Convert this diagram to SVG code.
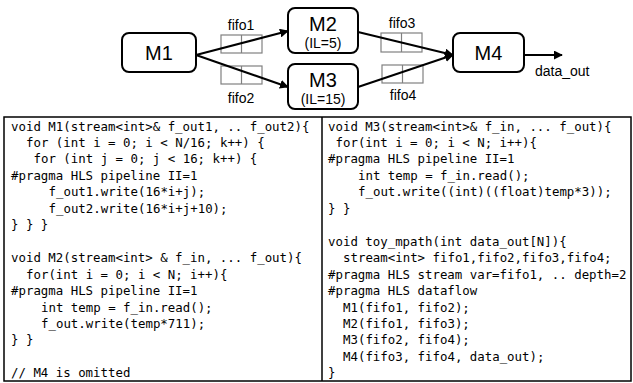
<svg xmlns="http://www.w3.org/2000/svg" width="633" height="383" viewBox="0 0 633 383">
<style>
.node{fill:#fff;stroke:#000;stroke-width:2}
.big{font-family:"Liberation Sans",Arial,sans-serif;font-size:20px;text-anchor:middle;fill:#000}
.il{font-family:"Liberation Sans",Arial,sans-serif;font-size:14px;text-anchor:middle;fill:#000}
.lbl{font-family:"Liberation Sans",Arial,sans-serif;font-size:14px;text-anchor:middle;fill:#000}
.fifo{fill:#fff;stroke:#808080;stroke-width:1.2}
.edge{stroke:#000;stroke-width:2;fill:none;marker-end:url(#ah)}
.code{font-family:"DejaVu Sans Mono","Liberation Mono",monospace;font-size:12.4px;fill:#000}
</style>
<defs>
<marker id="ah" viewBox="0 0 10 10" refX="9" refY="5" markerWidth="4.5" markerHeight="4.5" orient="auto" markerUnits="strokeWidth">
<path d="M0,0 L10,5 L0,10 z" fill="#000"/>
</marker>
</defs>
<rect width="633" height="383" fill="#fff"/>
<g id="fifos">
<g id="fifo1"><rect class="fifo" x="221" y="35" width="41" height="18"/><line x1="241.5" y1="35" x2="241.5" y2="53" stroke="#808080" stroke-width="1.2"/><text class="lbl" x="241" y="30">fifo1</text></g>
<g id="fifo2"><rect class="fifo" x="221" y="66" width="41" height="18"/><line x1="241.5" y1="66" x2="241.5" y2="84" stroke="#808080" stroke-width="1.2"/><text class="lbl" x="241" y="103">fifo2</text></g>
<g id="fifo3"><rect class="fifo" x="381" y="33" width="41" height="19"/><line x1="401.5" y1="33" x2="401.5" y2="52" stroke="#808080" stroke-width="1.2"/><text class="lbl" x="402" y="28">fifo3</text></g>
<g id="fifo4"><rect class="fifo" x="382" y="65" width="41" height="18"/><line x1="402.5" y1="65" x2="402.5" y2="83" stroke="#808080" stroke-width="1.2"/><text class="lbl" x="403" y="100">fifo4</text></g>
</g>
<g id="connectors">
<line class="edge" x1="196" y1="55" x2="288" y2="31"/>
<line class="edge" x1="196" y1="55" x2="288" y2="87"/>
<line class="edge" x1="358" y1="32" x2="453" y2="55"/>
<line class="edge" x1="358" y1="87" x2="453" y2="55"/>
<line class="edge" x1="524" y1="55" x2="562" y2="55"/>
</g>
<g id="M1"><rect class="node" x="122" y="33" width="74" height="39" rx="7"/><text class="big" x="159" y="59.5">M1</text></g>
<g id="M2"><rect class="node" x="288" y="8" width="70" height="45" rx="7"/><text class="big" x="323" y="31">M2</text><text class="il" x="323" y="48">(IL=5)</text></g>
<g id="M3"><rect class="node" x="288" y="64" width="70" height="45" rx="7"/><text class="big" x="323" y="87">M3</text><text class="il" x="323" y="104">(IL=15)</text></g>
<g id="M4"><rect class="node" x="453" y="33" width="71" height="39" rx="7"/><text class="big" x="488.5" y="59.5">M4</text></g>
<text class="lbl" x="535" y="76" style="text-anchor:start">data_out</text>
<g id="code">
<rect x="4" y="117" width="627" height="264" fill="none" stroke="#000" stroke-width="1.5"/>
<line x1="322" y1="117" x2="322" y2="381" stroke="#000" stroke-width="1.5"/>
<text class="code" x="11" y="130.5">void M1(stream&lt;int&gt;&amp; f_out1, .. f_out2){</text>
<text class="code" x="26" y="147">for (int i = 0; i &lt; N/16; k++) {</text>
<text class="code" x="33.5" y="163.4">for (int j = 0; j &lt; 16; k++) {</text>
<text class="code" x="11" y="179.9">#pragma HLS pipeline II=1</text>
<text class="code" x="48.5" y="196.3">f_out1.write(16*i+j);</text>
<text class="code" x="48.5" y="212.8">f_out2.write(16*i+j+10);</text>
<text class="code" x="11" y="229.2">} } }</text>
<text class="code" x="11" y="262.2">void M2(stream&lt;int&gt; &amp; f_in, ... f_out){</text>
<text class="code" x="26" y="278.6">for(int i = 0; i &lt; N; i++){</text>
<text class="code" x="11" y="295.1">#pragma HLS pipeline II=1</text>
<text class="code" x="41" y="311.5">int temp = f_in.read();</text>
<text class="code" x="41" y="328">f_out.write(temp*711);</text>
<text class="code" x="11" y="344.4">} }</text>
<text class="code" x="11" y="377.3">// M4 is omitted</text>
<text class="code" x="328" y="130.5">void M3(stream&lt;int&gt;&amp; f_in, ... f_out){</text>
<text class="code" x="335.5" y="147">for(int i = 0; i &lt; N; i++){</text>
<text class="code" x="328" y="163.4">#pragma HLS pipeline II=1</text>
<text class="code" x="358" y="179.9">int temp = f_in.read();</text>
<text class="code" x="358" y="196.3">f_out.write((int)((float)temp*3));</text>
<text class="code" x="328" y="212.8">} }</text>
<text class="code" x="328" y="245.7">void toy_mpath(int data_out[N]){</text>
<text class="code" x="343" y="262.2">stream&lt;int&gt; fifo1,fifo2,fifo3,fifo4;</text>
<text class="code" x="328" y="278.6">#pragma HLS stream var=fifo1, .. depth=2</text>
<text class="code" x="328" y="295.1">#pragma HLS dataflow</text>
<text class="code" x="343" y="311.5">M1(fifo1, fifo2);</text>
<text class="code" x="343" y="328">M2(fifo1, fifo3);</text>
<text class="code" x="343" y="344.4">M3(fifo2, fifo4);</text>
<text class="code" x="343" y="360.9">M4(fifo3, fifo4, data_out);</text>
<text class="code" x="328" y="377.3">}</text>
</g>
</svg>
